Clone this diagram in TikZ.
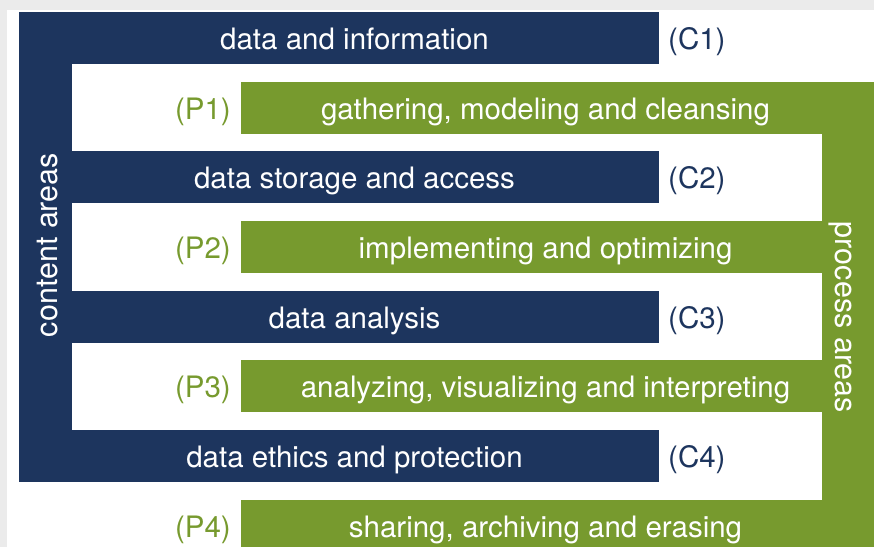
\documentclass[tikz,border=0pt]{standalone}
\usepackage{fontspec}
\setmainfont{TeX Gyre Heros}
\definecolor{navy}{HTML}{1D355E}
\definecolor{leaf}{HTML}{779A2E}
\definecolor{pagegray}{HTML}{EBEBEB}
\tikzset{
  bartext/.style={text=white, anchor=base, inner sep=0pt, font=\fontsize{29.5}{34}\selectfont},
  sidetext/.style={text=white, anchor=base, inner sep=0pt, font=\fontsize{30.5}{35}\selectfont},
  ctag/.style={text=navy, anchor=base west, inner sep=0pt, font=\fontsize{29.5}{34}\selectfont},
  ptag/.style={text=leaf, anchor=base east, inner sep=0pt, font=\fontsize{29.5}{34}\selectfont},
}
\begin{document}
\begin{tikzpicture}[x=1pt,y=-1pt]
\useasboundingbox (0,0) rectangle (874,547);
\fill[pagegray] (0,0) rectangle (874,547);
\fill[white] (7,10) rectangle (874,547);
% content comb
\fill[navy] (19,12) rectangle (659,64);
\fill[navy] (19,12) rectangle (72,482);
\fill[navy] (19,151) rectangle (659,203);
\fill[navy] (19,291) rectangle (659,343);
\fill[navy] (19,430) rectangle (659,482);
% process comb
\fill[leaf] (822,82) rectangle (874,547);
\fill[leaf] (241,82) rectangle (874,134);
\fill[leaf] (241,221) rectangle (874,273);
\fill[leaf] (241,360) rectangle (874,412);
\fill[leaf] (241,500) rectangle (874,547);
% texts
\node[bartext] (c1) at (354.5,49) {data and information};
\node[bartext] (c2) at (354.5,188) {data storage and access};
\node[bartext] (c3) at (354.5,328) {data analysis};
\node[bartext] (c4) at (354.5,467) {data ethics and protection};
\node[bartext] (p1) at (545.5,119) {gathering, modeling and cleansing};
\node[bartext] (p2) at (545.5,258) {implementing and optimizing};
\node[bartext] (p3) at (545.5,397) {analyzing, visualizing and interpreting};
\node[bartext] (p4) at (545.5,537) {sharing, archiving and erasing};
\node[ctag] (tc1) at (668,49) {(C1)};
\node[ctag] (tc2) at (668,188) {(C2)};
\node[ctag] (tc3) at (668,328) {(C3)};
\node[ctag] (tc4) at (668,467) {(C4)};
\node[ptag] (tp1) at (231,119) {(P1)};
\node[ptag] (tp2) at (231,258) {(P2)};
\node[ptag] (tp3) at (231,397) {(P3)};
\node[ptag] (tp4) at (231,537) {(P4)};
\node[sidetext, rotate=90] (content) at (57,245) {content areas};
\node[sidetext, rotate=-90] (process) at (835,317.5) {process areas};
\end{tikzpicture}
\end{document}
